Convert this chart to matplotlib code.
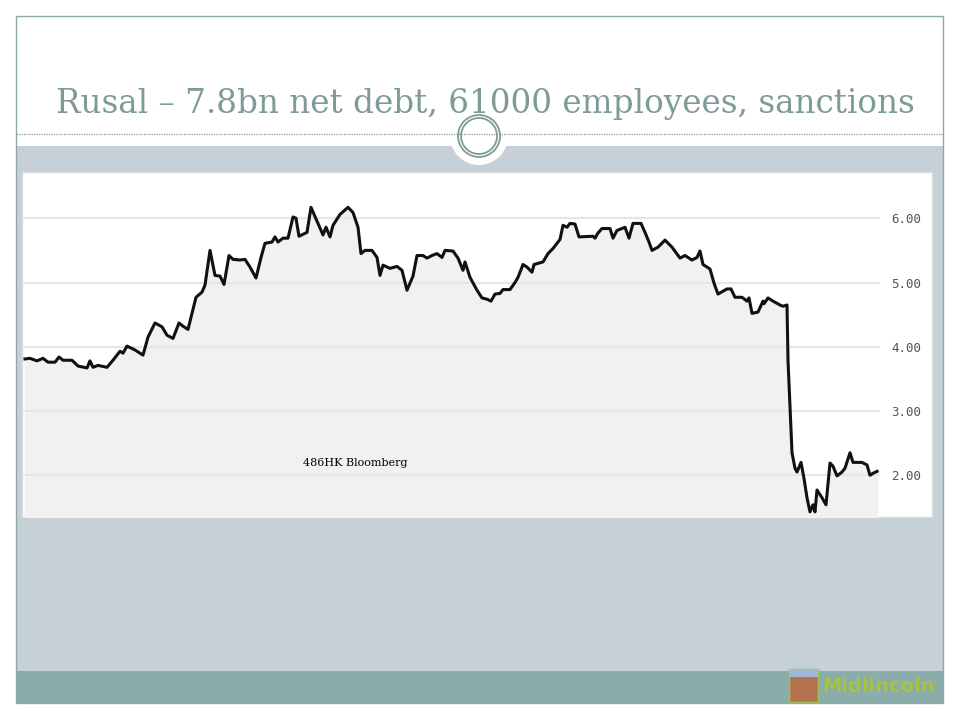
import matplotlib.pyplot as plt
from matplotlib.patches import Rectangle, Circle

# Rusal (486 HK) share price
day = [0, 5, 12, 18, 23, 30, 34, 38, 47, 53, 62, 65, 68, 73, 82, 88, 95, 98, 102,
       110, 118, 123, 130, 137, 142, 148, 154, 158, 163, 171, 177, 180, 185, 190,
       195, 199, 204, 208, 215, 220, 225, 231, 236, 240, 247, 250, 253, 258, 263,
       268, 271, 274, 282, 286, 293, 298, 301, 305, 308, 315, 323, 328, 333, 336,
       340, 347, 352, 355, 358, 365, 372, 377, 382, 388, 392, 398, 402, 407, 412,
       417, 420, 428, 433, 438, 440, 445, 452, 457, 462, 466, 470, 475, 478, 485,
       490, 493, 498, 502, 507, 509, 518, 523, 528, 535, 538, 542, 545, 550, 554,
       568, 570, 573, 577, 585, 588, 592, 600, 604, 608, 616, 620, 624, 627, 633,
       640, 647, 655, 660, 667, 672, 675, 678, 685, 689, 693, 702, 706, 710, 717,
       722, 724, 727, 733, 738, 739, 743, 748, 755, 758, 762, 763, 767, 770, 772,
       776, 779, 782, 785, 788, 790, 792, 797, 801, 805, 808, 812, 817, 820, 825,
       828, 837, 842, 845, 848, 852]
price = [3.81, 3.82, 3.78, 3.82, 3.76, 3.76, 3.84, 3.79, 3.79, 3.70, 3.67, 3.78,
         3.68, 3.71, 3.68, 3.79, 3.93, 3.90, 4.01, 3.95, 3.87, 4.15, 4.37, 4.31,
         4.18, 4.13, 4.37, 4.32, 4.27, 4.77, 4.85, 4.96, 5.50, 5.11, 5.10, 4.97,
         5.42, 5.36, 5.35, 5.36, 5.24, 5.07, 5.39, 5.61, 5.63, 5.71, 5.63, 5.69,
         5.69, 6.02, 6.00, 5.72, 5.78, 6.17, 5.92, 5.74, 5.86, 5.71, 5.89, 6.06,
         6.17, 6.09, 5.86, 5.45, 5.50, 5.50, 5.39, 5.11, 5.27, 5.22, 5.25, 5.19,
         4.88, 5.10, 5.42, 5.42, 5.38, 5.42, 5.45, 5.39, 5.50, 5.49, 5.38, 5.19,
         5.32, 5.08, 4.88, 4.76, 4.74, 4.71, 4.82, 4.83, 4.89, 4.89, 5.00, 5.08,
         5.28, 5.24, 5.16, 5.28, 5.32, 5.45, 5.53, 5.67, 5.89, 5.86, 5.92, 5.91,
         5.71, 5.72, 5.69, 5.77, 5.84, 5.84, 5.69, 5.81, 5.86, 5.69, 5.92, 5.92,
         5.78, 5.63, 5.50, 5.55, 5.66, 5.55, 5.38, 5.42, 5.35, 5.39, 5.49,
         5.28, 5.21, 4.99, 4.82, 4.90, 4.90, 4.77, 4.77, 4.71, 4.76, 4.52, 4.54,
         4.71, 4.67, 4.76, 4.71, 4.65, 4.63, 4.65, 3.79, 2.35, 2.11, 2.05, 2.20,
         1.95, 1.65, 1.43, 1.54, 1.43, 1.77, 1.65, 1.54, 2.19, 2.14, 1.99, 2.05,
         2.11, 2.35, 2.20, 2.20, 2.16, 2.00, 2.03, 2.06]
yticks = [2, 3, 4, 5, 6]

title = "Rusal – 7.8bn net debt, 61000 employees, sanctions"
source = "486HK Bloomberg"

teal = "#7E9B98"

fig = plt.figure(figsize=(9.6, 7.2), dpi=100)
fig.patch.set_facecolor("white")

# slide background drawn in pixel coordinates
bg = fig.add_axes([0, 0, 1, 1])
bg.set_xlim(0, 960)
bg.set_ylim(720, 0)
bg.axis("off")
bg.add_patch(Rectangle((16, 146), 927, 525, facecolor="#C6D1D7", edgecolor="none"))
bg.add_patch(Rectangle((16, 671), 927, 32, facecolor="#8AADAB", edgecolor="none"))
bg.add_patch(Rectangle((16, 16), 927, 687, facecolor="none", edgecolor="#8FA8A6", lw=1))
bg.plot([16, 943], [134, 134], color=teal, lw=0.9, ls=(0, (1, 1)))
bg.add_patch(Circle((479, 136), 29, facecolor="white", edgecolor="none"))
bg.add_patch(Circle((479, 136), 21, facecolor="none", edgecolor=teal, lw=1.3))
bg.add_patch(Circle((479, 136), 18, facecolor="none", edgecolor=teal, lw=1.3))
bg.text(485, 104, title, ha="center", va="center", fontsize=23.5,
        family="DejaVu Serif", color=teal, zorder=5)
bg.add_patch(Rectangle((22, 172), 910, 345, facecolor="white", edgecolor="#D8DEE0", lw=1))

# logo
bg.add_patch(Rectangle((789, 669), 29, 33, facecolor="#B5724F", edgecolor="#9FBF5A", lw=1))
bg.add_patch(Rectangle((789, 669), 29, 8, facecolor="#9DB9D6", edgecolor="none"))
bg.text(822, 687, "Midlincoln", ha="left", va="center", fontsize=14,
        fontweight="bold", family="DejaVu Sans", color="#A9C23F")

# price chart
ax = fig.add_axes([22 / 960, 1 - 517 / 720, 858 / 960, 345 / 720])
ax.set_xlim(-3, 855)
ax.set_ylim(1.35, 6.72)
ax.fill_between(day, price, 0, color="#F1F1F1", zorder=1)
for t in yticks:
    ax.axhline(t, color="#E6E6E6", lw=1.5, zorder=2)
ax.plot(day, price, color="#111111", lw=2.2, zorder=3)
ax.set_facecolor("none")
for s in ax.spines.values():
    s.set_visible(False)
ax.set_xticks([])
ax.set_yticks(yticks)
ax.set_yticklabels([f"{t:.2f}" for t in yticks], family="DejaVu Sans Mono",
                   fontsize=9, color="#555555")
ax.yaxis.tick_right()
ax.tick_params(axis="y", length=0, pad=8)
ax.text(355, 463, source, transform=bg.transData, ha="center", va="center",
        fontsize=8, family="DejaVu Serif", color="black")

fig.savefig("out.png", dpi=100)
